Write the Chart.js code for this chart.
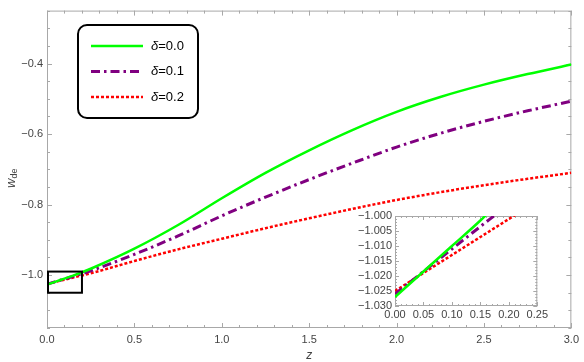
<!DOCTYPE html>
<html>
<head>
<meta charset="utf-8">
<script src="https://cdn.jsdelivr.net/npm/chart.js@4.4.1/dist/chart.umd.min.js"></script>
<style>
  html, body { margin: 0; padding: 0; background: #fff; }
  #wrap { position: relative; width: 584px; height: 362px; }
  #main { position: absolute; left: 0; top: 0; }
  #inset { position: absolute; left: 340px; top: 205px; }
</style>
</head>
<body>
<div id="wrap">
  <canvas id="main" width="584" height="362"></canvas>
  <canvas id="inset" width="210" height="120"></canvas>
</div>
<script>
// ---- data ----
const zValues = [0, 0.05, 0.1, 0.15, 0.2, 0.25, 0.5, 0.75, 1.0, 1.25, 1.5, 1.75, 2.0, 2.25, 2.5, 2.75, 3.0];
const wDelta00 = [-1.027, -1.0185, -1.010, -1.0015, -0.992, -0.982, -0.925, -0.858, -0.782, -0.710, -0.646, -0.588, -0.537, -0.495, -0.460, -0.430, -0.403];
const wDelta01 = [-1.026, -1.0185, -1.011, -1.0035, -0.996, -0.988, -0.941, -0.889, -0.832, -0.779, -0.729, -0.682, -0.637, -0.598, -0.564, -0.534, -0.507];
const wDelta02 = [-1.025, -1.019, -1.013, -1.007, -1.001, -0.995, -0.960, -0.927, -0.897, -0.867, -0.839, -0.812, -0.787, -0.765, -0.745, -0.727, -0.710];
const deltaLabels = ['δ=0.0', 'δ=0.1', 'δ=0.2'];
const xTickLabels = [0.0, 0.5, 1.0, 1.5, 2.0, 2.5, 3.0];
const yTickLabels = [-1.0, -0.8, -0.6, -0.4];
const insetXTicks = [0.00, 0.05, 0.10, 0.15, 0.20, 0.25];
const insetYTicks = [-1.030, -1.025, -1.020, -1.015, -1.010, -1.005, -1.000];
const zoomBoxZ = [0, 0.2];
const zoomBoxW = [-1.05, -0.99];

const FONT = '"Liberation Sans", Arial, sans-serif';
const LABEL_COLOR = '#444';
const FRAME_COLOR = '#a8a8a8';

function toPts(vals) { return zValues.map((z, i) => ({ x: z, y: vals[i] })); }
function fmt(v, d) { return (v < 0 ? '\u2212' : '') + Math.abs(v).toFixed(d); }

function makeDatasets() {
  return [
    { label: deltaLabels[0], data: toPts(wDelta00), borderColor: 'rgb(0,255,0)', borderWidth: 2.5, borderDash: [] },
    { label: deltaLabels[1], data: toPts(wDelta01), borderColor: 'rgb(128,0,128)', borderWidth: 3, borderDash: [9, 4, 2.5, 4] },
    { label: deltaLabels[2], data: toPts(wDelta02), borderColor: 'rgb(255,0,0)', borderWidth: 2.5, borderDash: [3, 2] }
  ].map(d => Object.assign(d, { pointRadius: 0, fill: false, cubicInterpolationMode: 'monotone', clip: 0 }));
}

// frame with inward ticks on all four sides
const framePlugin = {
  id: 'frame',
  beforeDatasetsDraw(chart, args, o) {
    const { ctx, chartArea: a, scales: { x, y } } = chart;
    ctx.save();
    ctx.strokeStyle = FRAME_COLOR;
    ctx.lineWidth = 1;
    ctx.strokeRect(a.left + 0.5, a.top + 0.5, a.right - a.left - 1, a.bottom - a.top - 1);
    const line = (x1, y1, x2, y2) => { ctx.beginPath(); ctx.moveTo(x1, y1); ctx.lineTo(x2, y2); ctx.stroke(); };
    const isMajor = (v, list) => list.some(t => Math.abs(t - v) < 1e-7);
    for (let i = Math.ceil(x.min / o.xMinor - 1e-6); i * o.xMinor <= x.max + 1e-9; i++) {
      const v = i * o.xMinor;
      const len = isMajor(v, o.xMajor) ? o.majorLen : o.minorLen;
      const px = Math.round(x.getPixelForValue(v)) + 0.5;
      line(px, a.bottom, px, a.bottom - len);
      line(px, a.top, px, a.top + len);
    }
    for (let i = Math.ceil(y.min / o.yMinor - 1e-6); i * o.yMinor <= y.max + 1e-9; i++) {
      const v = i * o.yMinor;
      const len = isMajor(v, o.yMajor) ? o.majorLen : o.minorLen;
      const py = Math.round(y.getPixelForValue(v)) + 0.5;
      line(a.left, py, a.left + len, py);
      line(a.right, py, a.right - len, py);
    }
    ctx.restore();
  }
};

// legend box, zoom rectangle and axis titles on main chart
const decorPlugin = {
  id: 'decor',
  afterDraw(chart) {
    const { ctx, chartArea: a, scales: { x, y } } = chart;
    ctx.save();
    ctx.strokeStyle = '#000';
    ctx.lineWidth = 2;
    const rx1 = x.getPixelForValue(zoomBoxZ[0]), rx2 = x.getPixelForValue(zoomBoxZ[1]);
    const ry1 = y.getPixelForValue(zoomBoxW[1]), ry2 = y.getPixelForValue(zoomBoxW[0]);
    ctx.strokeRect(rx1 + 1, ry1, rx2 - rx1 - 1, ry2 - ry1);

    const bx = 78, by = 25, bw = 120, bh = 93, r = 9;
    ctx.beginPath();
    ctx.roundRect(bx, by, bw, bh, r);
    ctx.fillStyle = '#fff';
    ctx.fill();
    ctx.lineWidth = 2;
    ctx.strokeStyle = '#000';
    ctx.stroke();
    chart.data.datasets.forEach((ds, i) => {
      const cy = by + 21 + i * 25.5;
      ctx.beginPath();
      ctx.setLineDash(ds.borderDash || []);
      ctx.strokeStyle = ds.borderColor;
      ctx.lineWidth = ds.borderWidth;
      ctx.moveTo(91, cy);
      ctx.lineTo(143, cy);
      ctx.stroke();
      ctx.setLineDash([]);
      ctx.fillStyle = '#000';
      ctx.textBaseline = 'middle';
      ctx.textAlign = 'left';
      ctx.font = 'italic 13px ' + FONT;
      const g = ds.label.charAt(0);
      ctx.fillText(g, 151, cy);
      const gw = ctx.measureText(g).width;
      ctx.font = '13px ' + FONT;
      ctx.fillText(ds.label.slice(1), 151 + gw, cy);
    });

    ctx.fillStyle = LABEL_COLOR;
    ctx.textAlign = 'center';
    ctx.textBaseline = 'middle';
    ctx.font = 'italic 12px ' + FONT;
    ctx.fillText('z', (a.left + a.right) / 2, 356);

    ctx.translate(11, (a.top + a.bottom) / 2 + 9);
    ctx.rotate(-Math.PI / 2);
    ctx.textAlign = 'left';
    ctx.font = 'italic 13px ' + FONT;
    const ww = ctx.measureText('w').width;
    ctx.fillText('w', -(ww + 10) / 2, 0);
    ctx.font = '9px ' + FONT;
    ctx.fillText('de', -(ww + 10) / 2 + ww, 3.5);
    ctx.restore();
  }
};

const mainChart = new Chart(document.getElementById('main'), {
  type: 'line',
  data: { datasets: makeDatasets() },
  plugins: [framePlugin, decorPlugin],
  options: {
    responsive: false,
    animation: false,
    layout: { padding: { top: 1, right: 7, left: 0, bottom: 0 } },
    plugins: {
      legend: { display: false },
      tooltip: { enabled: false },
      frame: { xMinor: 0.1, yMinor: 0.05, xMajor: xTickLabels, yMajor: yTickLabels, majorLen: 5, minorLen: 3 }
    },
    scales: {
      x: {
        type: 'linear', min: 0, max: 3,
        grid: { display: false, drawTicks: false }, border: { display: false },
        afterFit(s) { s.height = 34; },
        afterBuildTicks(s) { s.ticks = xTickLabels.map(v => ({ value: v })); },
        ticks: { autoSkip: false, maxRotation: 0, padding: 5, color: LABEL_COLOR, font: { family: FONT, size: 11 },
                 callback: v => fmt(v, 1) }
      },
      y: {
        type: 'linear', min: -1.15, max: -0.25,
        grid: { display: false, drawTicks: false }, border: { display: false },
        afterFit(s) { s.width = 47; },
        afterBuildTicks(s) { s.ticks = yTickLabels.map(v => ({ value: v })); },
        ticks: { autoSkip: false, padding: 4, color: LABEL_COLOR, font: { family: FONT, size: 11 },
                 callback: v => fmt(v, 1) }
      }
    }
  }
});

const insetChart = new Chart(document.getElementById('inset'), {
  type: 'line',
  data: { datasets: makeDatasets() },
  plugins: [framePlugin, {
    id: 'insetBg',
    beforeDraw(chart) {
      const { ctx, chartArea: a } = chart;
      ctx.save(); ctx.fillStyle = '#fff';
      ctx.fillRect(a.left, a.top, a.right - a.left, a.bottom - a.top);
      ctx.restore();
    }
  }],
  options: {
    responsive: false,
    animation: false,
    layout: { padding: { top: 11, right: 11, left: 0, bottom: 0 } },
    plugins: {
      legend: { display: false },
      tooltip: { enabled: false },
      frame: { xMinor: 0.01, yMinor: 0.001, xMajor: insetXTicks, yMajor: insetYTicks, majorLen: 4, minorLen: 2 }
    },
    scales: {
      x: {
        type: 'linear', min: 0, max: 0.25,
        grid: { display: false, drawTicks: false }, border: { display: false },
        afterFit(s) { s.height = 19; },
        afterBuildTicks(s) { s.ticks = insetXTicks.map(v => ({ value: v })); },
        ticks: { autoSkip: false, maxRotation: 0, padding: 2, color: LABEL_COLOR, font: { family: FONT, size: 11 },
                 callback: v => fmt(v, 2) }
      },
      y: {
        type: 'linear', min: -1.03, max: -1.0,
        grid: { display: false, drawTicks: false }, border: { display: false },
        afterFit(s) { s.width = 55; },
        afterBuildTicks(s) { s.ticks = insetYTicks.map(v => ({ value: v })); },
        ticks: { autoSkip: false, padding: 3, color: LABEL_COLOR, font: { family: FONT, size: 11 },
                 callback: v => fmt(v, 3) }
      }
    }
  }
});
</script>
</body>
</html>
